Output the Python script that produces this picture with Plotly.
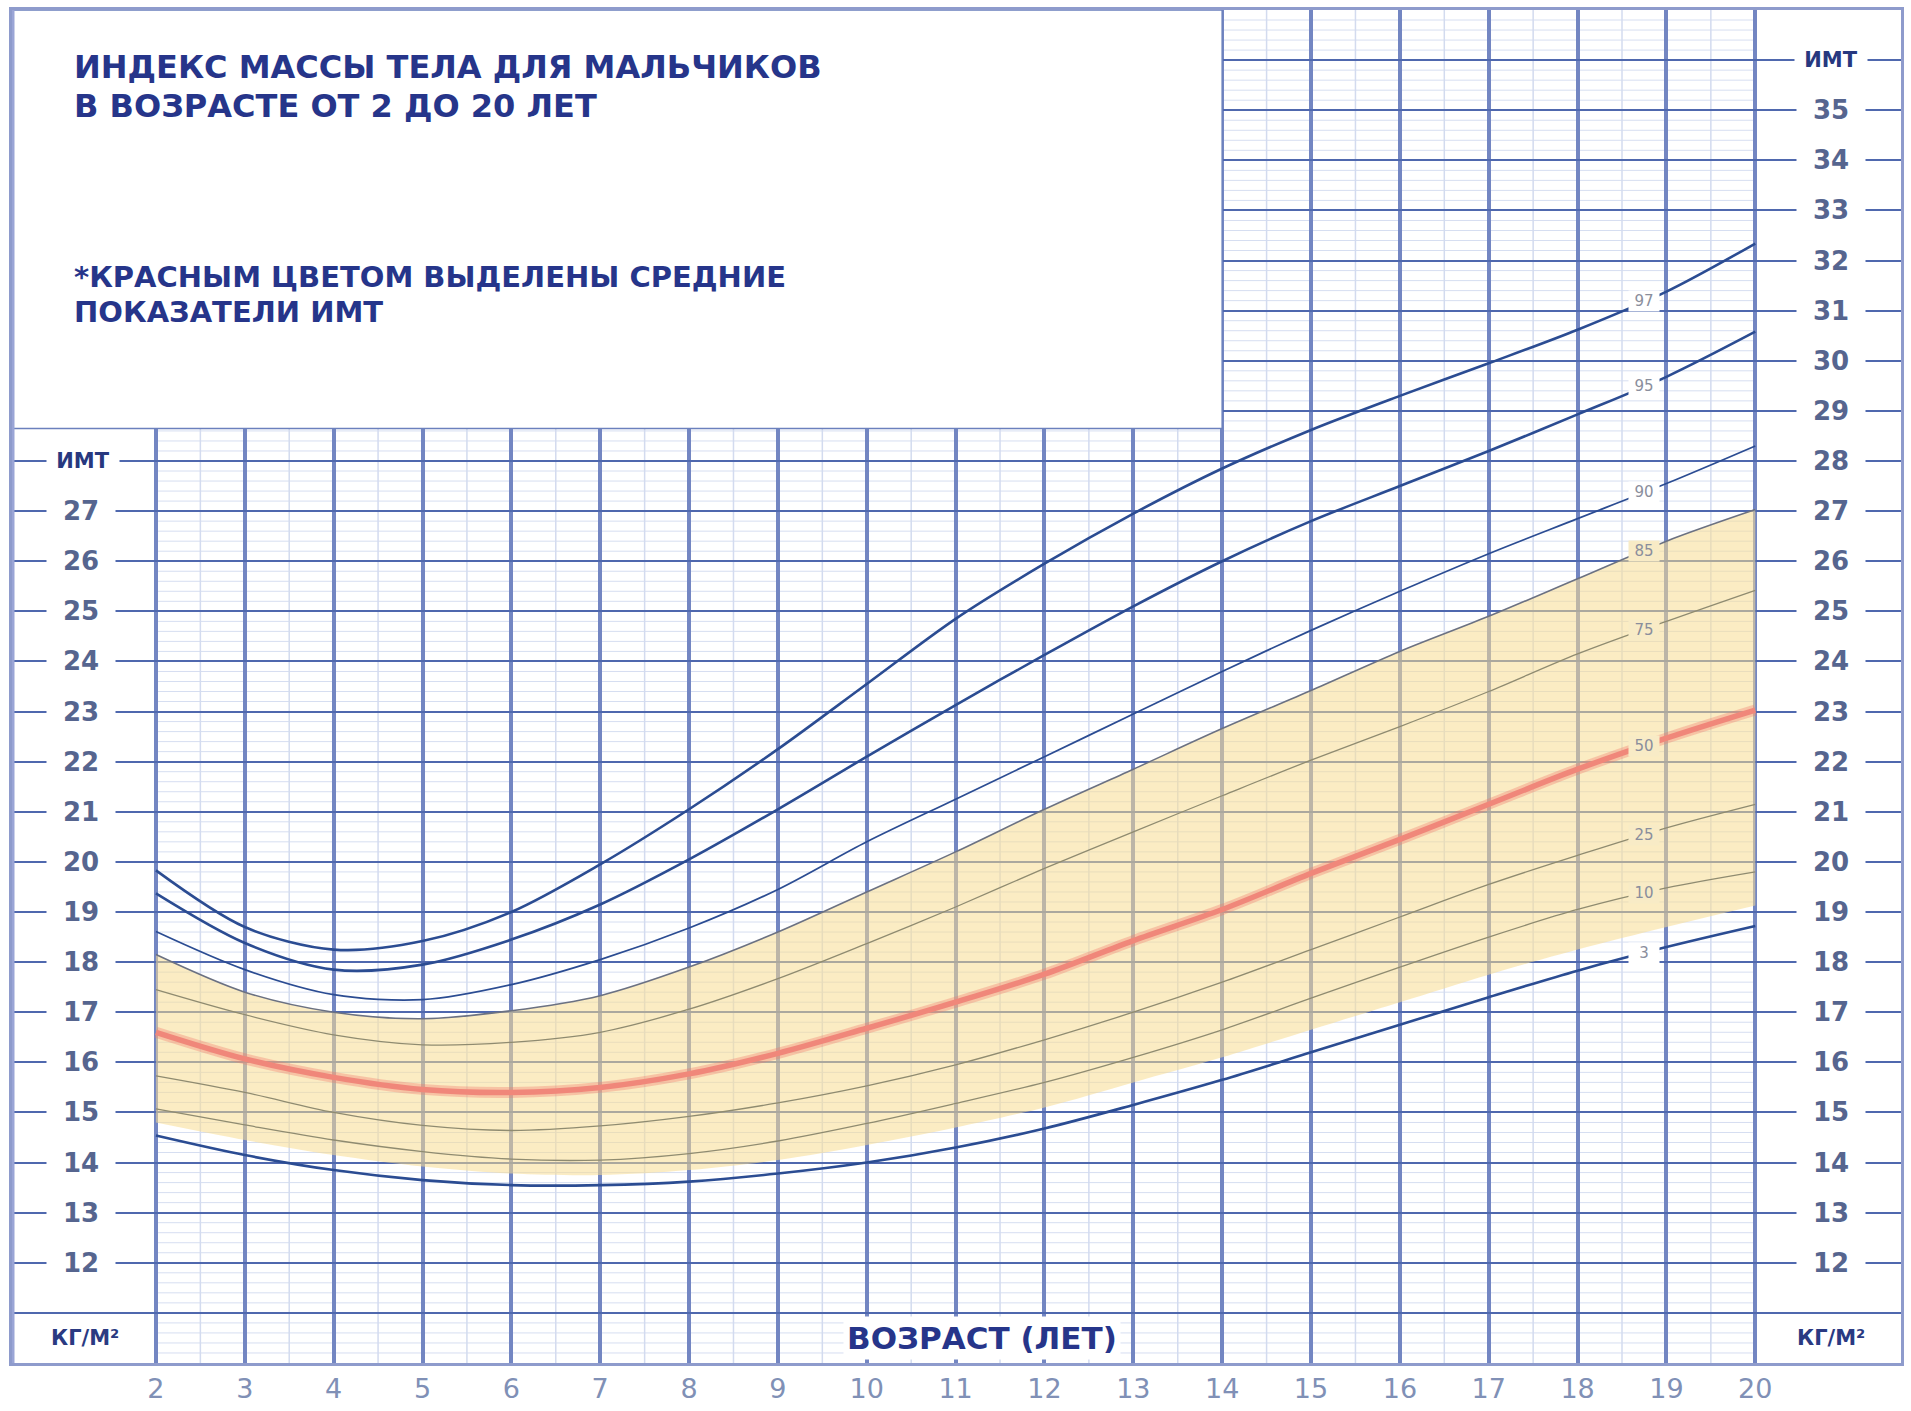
import numpy as np
import plotly.graph_objects as go

# Age in years
ages = list(range(2, 21))

# BMI percentile curves for boys, kg/m2, one value per year of age
p97 = [19.83, 18.70, 18.25, 18.42, 19.00, 19.95, 21.05, 22.25, 23.55, 24.85,
       25.95, 26.95, 27.85, 28.62, 29.30, 29.95, 30.62, 31.38, 32.34]
p95 = [19.37, 18.38, 17.85, 17.95, 18.45, 19.15, 20.05, 21.05, 22.10, 23.13,
       24.13, 25.10, 26.00, 26.80, 27.50, 28.20, 28.93, 29.68, 30.58]
p90 = [18.61, 17.85, 17.35, 17.25, 17.55, 18.05, 18.68, 19.45, 20.40, 21.25,
       22.10, 22.95, 23.80, 24.62, 25.40, 26.15, 26.85, 27.55, 28.30]
p85 = [18.15, 17.40, 17.00, 16.87, 17.03, 17.33, 17.90, 18.60, 19.40, 20.20,
       21.05, 21.85, 22.66, 23.42, 24.20, 24.90, 25.65, 26.40, 27.03]
p75 = [17.45, 16.95, 16.55, 16.35, 16.40, 16.60, 17.06, 17.67, 18.37, 19.10,
       19.87, 20.60, 21.32, 22.03, 22.70, 23.40, 24.15, 24.80, 25.42]
p50 = [16.60, 16.07, 15.70, 15.46, 15.40, 15.50, 15.77, 16.18, 16.68, 17.20,
       17.76, 18.43, 19.05, 19.77, 20.45, 21.15, 21.85, 22.47, 23.03]
p25 = [15.73, 15.40, 15.00, 14.74, 14.64, 14.73, 14.92, 15.19, 15.53, 15.95,
       16.45, 17.00, 17.60, 18.25, 18.90, 19.55, 20.13, 20.68, 21.15]
p10 = [15.07, 14.75, 14.45, 14.22, 14.07, 14.05, 14.18, 14.43, 14.78, 15.18,
       15.60, 16.10, 16.65, 17.28, 17.90, 18.50, 19.05, 19.48, 19.80]
p5 = [14.80, 14.45, 14.15, 13.92, 13.78, 13.75, 13.85, 14.05, 14.35, 14.70,
      15.10, 15.60, 16.10, 16.65, 17.20, 17.75, 18.25, 18.70, 19.13]
p3 = [14.54, 14.15, 13.85, 13.65, 13.55, 13.55, 13.62, 13.78, 14.00, 14.30,
      14.68, 15.15, 15.65, 16.20, 16.75, 17.30, 17.83, 18.30, 18.72]

# Scale labels
left_vals = list(range(12, 28))
right_vals = list(range(12, 36))
x_ticks = ages

title_lines = ["ИНДЕКС МАССЫ ТЕЛА ДЛЯ МАЛЬЧИКОВ", "В ВОЗРАСТЕ ОТ 2 ДО 20 ЛЕТ"]
note_lines = ["*КРАСНЫМ ЦВЕТОМ ВЫДЕЛЕНЫ СРЕДНИЕ", "ПОКАЗАТЕЛИ ИМТ"]

# Axis extents (age / BMI units)
X0, X1 = 0.38, 21.64
Y0, Y1 = 10, 37
BOX_X1, BOX_Y0 = 14, 28.65
LABEL_AGE = 18.75

NAVY = "#26358a"
BLUE = "#2b4c92"
OLIVE = "#8f8b70"
BAND_BG = "#f8ebc6"
SCALE = "#56658f"
FONT = "DejaVu Sans"

fig = go.Figure()

spline = dict(shape="spline", smoothing=0.9)

# Yellow band between the 5th and 85th percentiles
fig.add_trace(go.Scatter(x=ages, y=p5, mode="lines",
                         line=dict(width=0, **spline),
                         hoverinfo="skip", showlegend=False))
fig.add_trace(go.Scatter(x=ages, y=p85, mode="lines", fill="tonexty",
                         fillcolor="rgba(248,220,145,0.55)",
                         line=dict(width=0, **spline),
                         hoverinfo="skip", showlegend=False))

def curve(y, color, width, opacity=1.0):
    fig.add_trace(go.Scatter(x=ages, y=y, mode="lines", opacity=opacity,
                             line=dict(color=color, width=width, **spline),
                             hoverinfo="skip", showlegend=False))

curve(p75, OLIVE, 1.3)
curve(p25, OLIVE, 1.3)
curve(p10, OLIVE, 1.3)
curve(p85, "#6b7182", 1.6)
curve(p50, "rgba(240,120,105,0.35)", 11)
curve(p50, "#f0877a", 5.5)
curve(p90, BLUE, 1.7)
curve(p95, BLUE, 2.6)
curve(p97, BLUE, 2.6)
curve(p3, BLUE, 2.6)

# Minor grid inside the age range
h_minor = "".join(
    f"M{ages[0]},{v:.1f}L{ages[-1]},{v:.1f}"
    for v in np.arange(Y0 + 0.2, Y1, 0.2) if abs(v - round(v)) > 1e-6
)
v_minor = "".join(f"M{a + 0.5},{Y0}L{a + 0.5},{Y1}" for a in ages[:-1])

shapes = [
    dict(type="path", path=h_minor, xref="x", yref="y", layer="below",
         line=dict(color="#d6def1", width=1)),
    dict(type="path", path=v_minor, xref="x", yref="y", layer="below",
         line=dict(color="#d3dbef", width=1.5)),
    # heading panel
    dict(type="rect", xref="x", yref="y", x0=X0, x1=BOX_X1, y0=BOX_Y0, y1=Y1,
         fillcolor="#ffffff", layer="between",
         line=dict(color="#6b80bd", width=1.5)),
    # heavier left border
    dict(type="line", xref="x", yref="y", x0=X0, x1=X0, y0=Y0, y1=Y1,
         line=dict(color="#9aa5d6", width=5)),
]

ann = []

def text(x, y, s, size, color, bg=None, width=None, xanchor="center", bold=False):
    ann.append(dict(x=x, y=y, xref="x", yref="y", text=f"<b>{s}</b>" if bold else s,
                    showarrow=False, xanchor=xanchor, yanchor="middle",
                    font=dict(family=FONT, size=size, color=color),
                    bgcolor=bg, width=width, borderpad=3 if bg else 0))

# Heading texts
text(1.065, 35.86, title_lines[0], 32, NAVY, xanchor="left", bold=True)
text(1.065, 35.08, title_lines[1], 32, NAVY, xanchor="left", bold=True)
text(1.065, 31.67, note_lines[0], 29, NAVY, xanchor="left", bold=True)
text(1.065, 30.97, note_lines[1], 29, NAVY, xanchor="left", bold=True)

# Side scales
for v in left_vals:
    text(1.16, v, str(v), 26, SCALE, bg="#ffffff", width=62, bold=True)
text(1.18, 28, "ИМТ", 21, "#27387f", bg="#ffffff", width=66, bold=True)
for v in right_vals:
    text(20.85, v, str(v), 26, SCALE, bg="#ffffff", width=62, bold=True)
text(20.85, 36, "ИМТ", 21, "#27387f", bg="#ffffff", width=66, bold=True)

text(1.2, 10.5, "КГ/М²", 21, "#2a3a82", bold=True)
text(20.85, 10.5, "КГ/М²", 21, "#2a3a82", bold=True)
text(11.3, 10.5, "ВОЗРАСТ (ЛЕТ)", 31, NAVY, bg="#ffffff", bold=True)

# Percentile labels along the curves
for name, y, bg in [("97", p97, "#ffffff"), ("95", p95, "#ffffff"), ("90", p90, "#ffffff"),
                    ("85", p85, BAND_BG), ("75", p75, BAND_BG), ("50", p50, BAND_BG),
                    ("25", p25, BAND_BG), ("10", p10, BAND_BG), ("3", p3, "#ffffff")]:
    yv = float(np.interp(LABEL_AGE, ages, y))
    ann.append(dict(x=LABEL_AGE, y=yv, xref="x", yref="y", text=name, showarrow=False,
                    font=dict(family=FONT, size=15, color="#8a8e9c"),
                    bgcolor=bg, borderpad=1, width=28))

fig.update_layout(
    width=1911, height=1411,
    margin=dict(l=12, r=7, t=10, b=46),
    paper_bgcolor="#ffffff", plot_bgcolor="#ffffff",
    shapes=shapes, annotations=ann, showlegend=False,
    xaxis=dict(range=[X0, X1], tickmode="array", tickvals=x_ticks,
               ticktext=[str(a) for a in x_ticks], ticks="",
               tickfont=dict(family=FONT, size=27, color="#8090b6"),
               showgrid=True, gridcolor="#7386c2", gridwidth=3.5,
               zeroline=False, showline=True, linecolor="#8e9bcc",
               linewidth=2.5, mirror=True, fixedrange=True),
    yaxis=dict(range=[Y0, Y1], tickmode="array", tickvals=list(range(11, 37)),
               showticklabels=False, ticks="",
               showgrid=True, gridcolor="#4f68ae", gridwidth=2,
               zeroline=False, showline=True, linecolor="#8e9bcc",
               linewidth=2.5, mirror=True, fixedrange=True),
)

fig.write_html("out.html")
